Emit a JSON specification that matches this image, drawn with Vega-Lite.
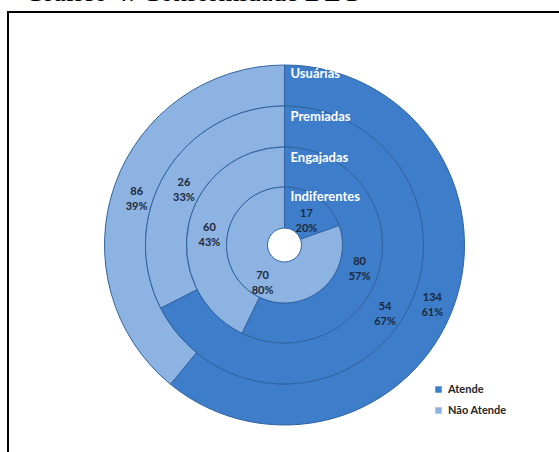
{
  "$schema": "https://vega.github.io/schema/vega-lite/v6.json",
  "autosize": {"type": "none"},
  "padding": {"left": 8, "top": 12, "right": -2, "bottom": -26},
  "width": 553,
  "height": 466,
  "background": "white",
  "view": {"stroke": "black", "strokeWidth": 2, "fill": "white"},
  "title": {
    "text": "Gráfico 4: Conformidade DEC",
    "anchor": "start",
    "frame": "group",
    "font": "Liberation Serif",
    "fontSize": 27,
    "fontWeight": "normal",
    "color": "black",
    "baseline": "alphabetic",
    "offset": -10,
    "dx": 17,
    "dy": 6
  },
  "data": {
    "values": [
      {"ring": "Usuárias", "cat": "Atende", "value": 134, "pct": 61},
      {"ring": "Usuárias", "cat": "Não Atende", "value": 86, "pct": 39},
      {"ring": "Premiadas", "cat": "Atende", "value": 54, "pct": 67},
      {"ring": "Premiadas", "cat": "Não Atende", "value": 26, "pct": 33},
      {"ring": "Engajadas", "cat": "Atende", "value": 80, "pct": 57},
      {"ring": "Engajadas", "cat": "Não Atende", "value": 60, "pct": 43},
      {"ring": "Indiferentes", "cat": "Atende", "value": 17, "pct": 20},
      {"ring": "Indiferentes", "cat": "Não Atende", "value": 70, "pct": 80}
    ]
  },
  "transform": [
    {"calculate": "datum.value + '\\n' + datum.pct + '%'", "as": "label"}
  ],
  "encoding": {
    "theta": {"field": "value", "type": "quantitative", "stack": "normalize"},
    "order": {"field": "cat", "sort": "ascending"}
  },
  "layer": [
    {
      "transform": [{"filter": "datum.ring === 'Usuárias'"}],
      "layer": [
        {
          "mark": {"type": "arc", "radius": 180, "radius2": 139, "stroke": "#30639f", "strokeWidth": 1},
          "encoding": {
            "color": {
              "field": "cat", "type": "nominal",
              "scale": {"domain": ["Atende", "Não Atende"], "range": ["#3d7dca", "#8db3e2"]},
              "legend": {
                "title": null, "orient": "none", "legendX": 425, "legendY": 372,
                "symbolType": "square", "symbolSize": 42, "symbolStrokeWidth": 0,
                "labelFont": "Lato", "labelFontSize": 11, "labelFontWeight": "bold",
                "labelColor": "#262626", "rowPadding": 9, "labelOffset": 4
              }
            }
          }
        },
        {
          "mark": {"type": "text", "radius": 157, "lineBreak": "\n", "font": "Lato", "fontSize": 11, "fontWeight": "bold", "color": "#1b2a3c", "lineHeight": 15},
          "encoding": {"text": {"field": "label", "type": "nominal"}}
        },
        {
          "transform": [{"filter": "datum.cat === 'Atende'"}],
          "mark": {"type": "text", "theta": 0, "radius": 171, "align": "left", "baseline": "middle", "dx": 6, "font": "Lato", "fontSize": 13, "fontWeight": "bold", "color": "white"},
          "encoding": {"theta": null, "order": null, "text": {"field": "ring", "type": "nominal"}}
        }
      ]
    },
    {
      "transform": [{"filter": "datum.ring === 'Premiadas'"}],
      "layer": [
        {
          "mark": {"type": "arc", "radius": 139, "radius2": 98, "stroke": "#30639f", "strokeWidth": 1},
          "encoding": {"color": {"field": "cat", "type": "nominal"}}
        },
        {
          "mark": {"type": "text", "radius": 118, "lineBreak": "\n", "font": "Lato", "fontSize": 11, "fontWeight": "bold", "color": "#1b2a3c", "lineHeight": 15},
          "encoding": {"text": {"field": "label", "type": "nominal"}}
        },
        {
          "transform": [{"filter": "datum.cat === 'Atende'"}],
          "mark": {"type": "text", "theta": 0, "radius": 128, "align": "left", "baseline": "middle", "dx": 6, "font": "Lato", "fontSize": 13, "fontWeight": "bold", "color": "white"},
          "encoding": {"theta": null, "order": null, "text": {"field": "ring", "type": "nominal"}}
        }
      ]
    },
    {
      "transform": [{"filter": "datum.ring === 'Engajadas'"}],
      "layer": [
        {
          "mark": {"type": "arc", "radius": 98, "radius2": 58, "stroke": "#30639f", "strokeWidth": 1},
          "encoding": {"color": {"field": "cat", "type": "nominal"}}
        },
        {
          "mark": {"type": "text", "radius": 77, "lineBreak": "\n", "font": "Lato", "fontSize": 11, "fontWeight": "bold", "color": "#1b2a3c", "lineHeight": 15},
          "encoding": {"text": {"field": "label", "type": "nominal"}}
        },
        {
          "transform": [{"filter": "datum.cat === 'Atende'"}],
          "mark": {"type": "text", "theta": 0, "radius": 87, "align": "left", "baseline": "middle", "dx": 6, "font": "Lato", "fontSize": 13, "fontWeight": "bold", "color": "white"},
          "encoding": {"theta": null, "order": null, "text": {"field": "ring", "type": "nominal"}}
        }
      ]
    },
    {
      "transform": [{"filter": "datum.ring === 'Indiferentes'"}],
      "layer": [
        {
          "mark": {"type": "arc", "radius": 58, "radius2": 17, "stroke": "#30639f", "strokeWidth": 1},
          "encoding": {"color": {"field": "cat", "type": "nominal"}}
        },
        {
          "mark": {"type": "text", "radius": 38, "lineBreak": "\n", "font": "Lato", "fontSize": 11, "fontWeight": "bold", "color": "#1b2a3c", "lineHeight": 15},
          "encoding": {"text": {"field": "label", "type": "nominal"}}
        },
        {
          "transform": [{"filter": "datum.cat === 'Atende'"}],
          "mark": {"type": "text", "theta": 0, "radius": 48, "align": "left", "baseline": "middle", "dx": 6, "font": "Lato", "fontSize": 13, "fontWeight": "bold", "color": "white"},
          "encoding": {"theta": null, "order": null, "text": {"field": "ring", "type": "nominal"}}
        }
      ]
    }
  ]
}
